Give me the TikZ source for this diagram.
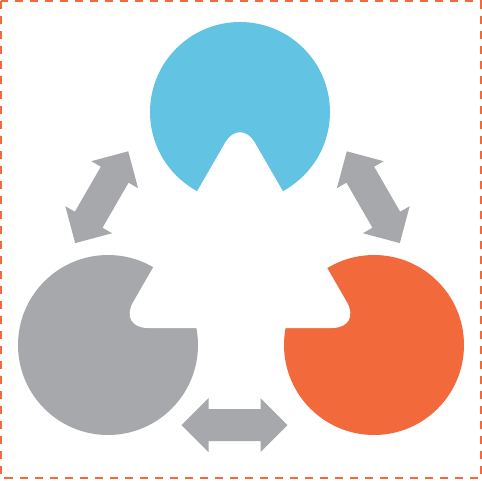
\documentclass[tikz,border=0pt]{standalone}
\definecolor{topblue}{HTML}{63C3E3}
\definecolor{leftgray}{HTML}{A7A8AB}
\definecolor{rightorange}{HTML}{F26A3B}
\definecolor{arrowgray}{HTML}{A7A8AB}
\begin{document}
\begin{tikzpicture}[x=1pt,y=-1pt]

\useasboundingbox (0,0) rectangle (482,480);
\draw[rightorange,line width=2pt,dash pattern=on 8pt off 7pt] (1,1) rectangle (480.5,477.5);

% Three circles
\fill[topblue] (240,112) circle (90pt);
\fill[leftgray] (108,345) circle (90pt);
\fill[rightorange] (374,345) circle (90pt);

% White triangle cutting the notches
\fill[white,rounded corners=30pt] (179.1,222.5) -- (240,117) -- (361.8,328) -- (118.2,328) -- cycle;

% Double arrows between the circles
\foreach \cx/\cy/\ang in {101.7/197.2/60, 373.3/197.2/-60, 234.5/425/0} {
    \fill[arrowgray,shift={(\cx,\cy)},rotate=\ang]
        (-53,0) -- (-26,-27) -- (-26,-16) -- (26,-16) -- (26,-27) -- (53,0)
        -- (26,27) -- (26,16) -- (-26,16) -- (-26,27) -- cycle;
}

\end{tikzpicture}
\end{document}
